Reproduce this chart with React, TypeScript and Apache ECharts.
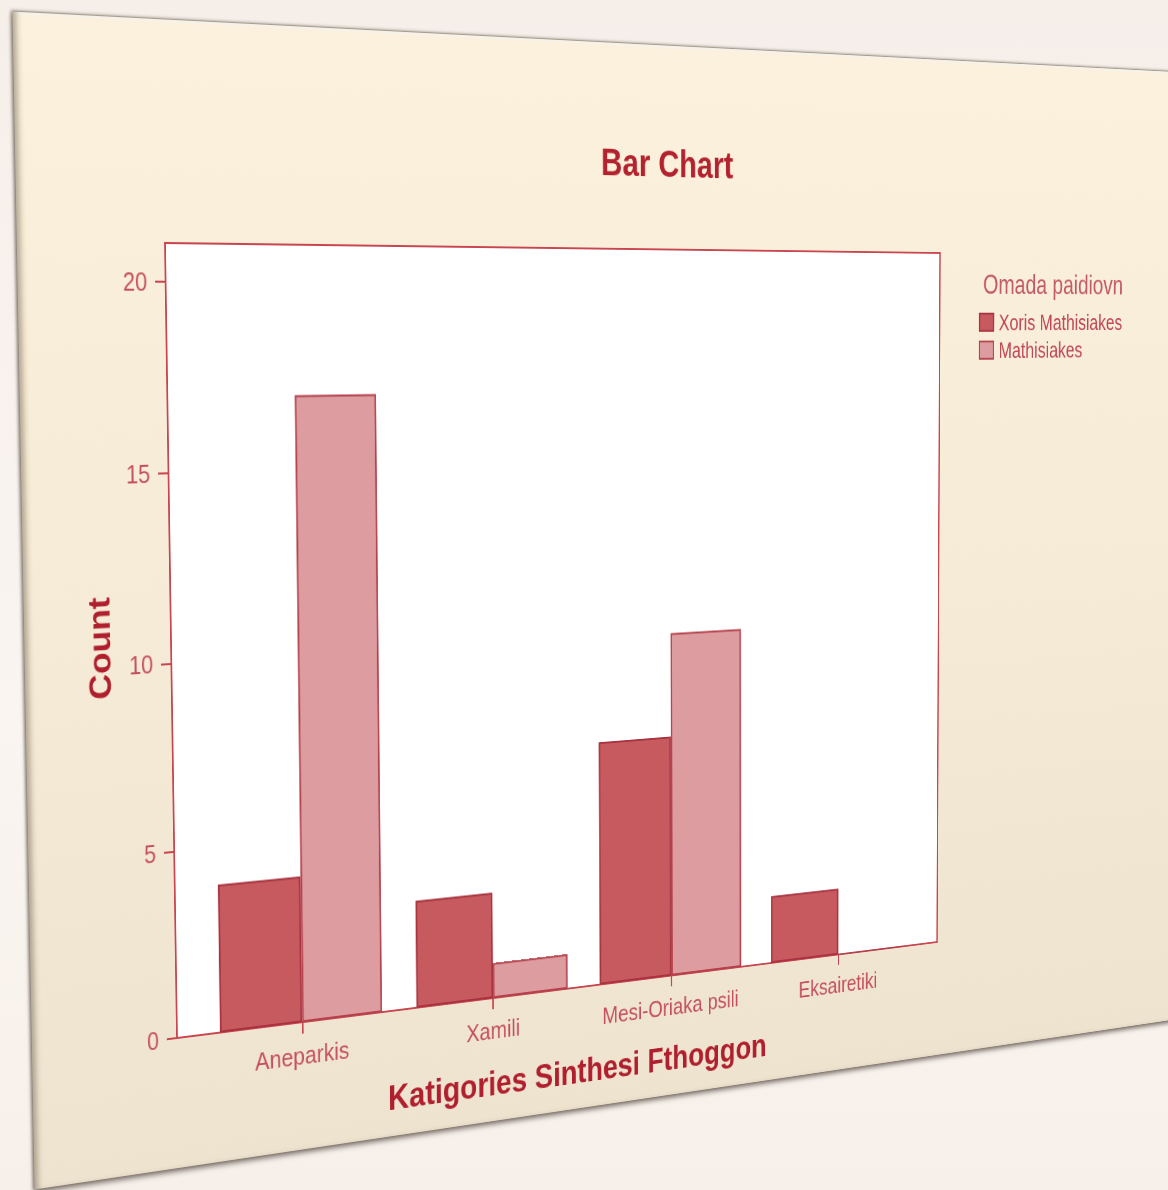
import React, { useEffect, useRef } from "react";
import * as echarts from "echarts";

// ---------------- data ----------------
const categories = ["Aneparkis", "Xamili", "Mesi-Oriaka psili", "Eksairetiki"];
const groupNames = ["Xoris Mathisiakes", "Mathisiakes"];
const xorisMathisiakes = [4, 3, 7, 2];
const mathisiakes = [17, 1, 10, 0];
const yMin = 0;
const yMax = 20;
const yStep = 5;
const chartTitle = "Bar Chart";
const legendTitle = "Omada paidiovn";
const xAxisTitle = "Katigories Sinthesi Fthoggon";
const yAxisTitle = "Count";

// ---------------- layout (flat, before the perspective warp) ----------------
const FRAME_MAX = 21; // frame top sits a little above the last tick
const FLAT_W = 1800;
const FLAT_H = 1500;
const FL = 200;
const FT = 260;
const FW = 1030;
const FH = 795;
const PAD_L = 29;
const PAD_R = 30;

// where the plot frame appears in the photographed slide
const frameQuad: number[][] = [
  [165, 243],
  [940, 253],
  [937, 942],
  [177, 1038],
];

type M3 = number[][];
function squareToQuad(q: number[][]): M3 {
  const [[x0, y0], [x1, y1], [x2, y2], [x3, y3]] = q;
  const dx1 = x1 - x2, dx2 = x3 - x2, dx3 = x0 - x1 + x2 - x3;
  const dy1 = y1 - y2, dy2 = y3 - y2, dy3 = y0 - y1 + y2 - y3;
  const den = dx1 * dy2 - dx2 * dy1;
  const g = (dx3 * dy2 - dx2 * dy3) / den;
  const h = (dx1 * dy3 - dx3 * dy1) / den;
  const a = x1 - x0 + g * x1, b = x3 - x0 + h * x3, c = x0;
  const d = y1 - y0 + g * y1, e = y3 - y0 + h * y3, f = y0;
  return [
    [a, b, c],
    [d, e, f],
    [g, h, 1],
  ];
}
function mul(A: M3, B: M3): M3 {
  const R: M3 = [[0, 0, 0], [0, 0, 0], [0, 0, 0]];
  for (let i = 0; i < 3; i++)
    for (let j = 0; j < 3; j++)
      for (let k = 0; k < 3; k++) R[i][j] += A[i][k] * B[k][j];
  return R;
}
function inv(m: M3): M3 {
  const [[a, b, c], [d, e, f], [g, h, i]] = m;
  const A = e * i - f * h, B = -(d * i - f * g), C = d * h - e * g;
  const det = a * A + b * B + c * C;
  return [
    [A / det, -(b * i - c * h) / det, (b * f - c * e) / det],
    [B / det, (a * i - c * g) / det, -(a * f - c * d) / det],
    [C / det, -(a * h - b * g) / det, (a * e - b * d) / det],
  ];
}
const S: M3 = [
  [1 / FW, 0, -FL / FW],
  [0, 1 / FH, -FT / FH],
  [0, 0, 1],
];
const H = mul(squareToQuad(frameQuad), S);
const Hinv = inv(H);
function toFlat(x: number, y: number) {
  const u = Hinv[0][0] * x + Hinv[0][1] * y + Hinv[0][2];
  const v = Hinv[1][0] * x + Hinv[1][1] * y + Hinv[1][2];
  const w = Hinv[2][0] * x + Hinv[2][1] * y + Hinv[2][2];
  return { x: u / w, y: v / w };
}
const MATRIX = `matrix3d(${H[0][0]},${H[1][0]},0,${H[2][0]},${H[0][1]},${H[1][1]},0,${H[2][1]},0,0,1,0,${H[0][2]},${H[1][2]},0,${H[2][2]})`;

// card (slide) rectangle in flat coordinates
const cardTL = toFlat(12, 10);
const cardBL = toFlat(35, 1188);
const cardTR = toFlat(1200, 74);
const card = {
  x: (cardTL.x + cardBL.x) / 2,
  y: cardTL.y,
  w: Math.max(cardTR.x, 1700) - (cardTL.x + cardBL.x) / 2,
  h: cardBL.y - cardTL.y,
};

const titlePos = toFlat(668, 164);
const legendTitlePos = toFlat(983, 284);
const legendPos = toFlat(979, 311);

const FONT = '"Liberation Sans", Arial, sans-serif';
const TITLE_COLOR = "#b3222f";
const NAME_COLOR = "#b01f2d";
const LABEL_COLOR = "#c4505c";
const FRAME_COLOR = "#c9454f";
const LEGEND_TEXT = "#c04654";
const LEGEND_TITLE = "#c45a66";

const yGridTop = FT + (FH * (FRAME_MAX - yMax)) / FRAME_MAX;
const yGridH = (FH * (yMax - yMin)) / FRAME_MAX;

export default function App() {
  const ref = useRef<HTMLDivElement>(null);
  useEffect(() => {
    if (!ref.current) return;
    const chart = echarts.init(ref.current, null, {
      renderer: "svg",
      width: FLAT_W,
      height: FLAT_H,
    });
    const option: any = {
      animation: false,
      backgroundColor: "transparent",
      grid: [
        {
          left: FL,
          top: FT,
          width: FW,
          height: FH,
          show: true,
          backgroundColor: "#ffffff",
          borderColor: FRAME_COLOR,
          borderWidth: 2,
        },
        { left: FL, top: yGridTop, width: FW, height: yGridH },
        { left: FL + PAD_L, top: yGridTop, width: FW - PAD_L - PAD_R, height: yGridH },
      ],
      xAxis: [
        { gridIndex: 0, type: "value", show: false, min: 0, max: 1 },
        { gridIndex: 1, type: "value", show: false, min: 0, max: 1 },
        {
          gridIndex: 2,
          type: "category",
          data: categories,
          axisLine: { show: false },
          axisTick: {
            show: true,
            alignWithLabel: true,
            length: 12,
            lineStyle: { color: FRAME_COLOR, width: 2 },
          },
          axisLabel: {
            color: LABEL_COLOR,
            fontSize: 26,
            fontFamily: FONT,
            margin: 22,
            interval: 0,
          },
          name: xAxisTitle,
          nameLocation: "middle",
          nameGap: 74,
          nameTextStyle: {
            color: NAME_COLOR,
            fontSize: 37,
            fontWeight: "bold",
            fontFamily: FONT,
          },
        },
      ],
      yAxis: [
        {
          gridIndex: 0,
          type: "value",
          min: 0,
          max: 1,
          axisLine: { show: false },
          axisTick: { show: false },
          axisLabel: { show: false },
          splitLine: { show: false },
          name: yAxisTitle,
          nameLocation: "middle",
          nameGap: 65,
          nameRotate: 90,
          nameTextStyle: {
            color: NAME_COLOR,
            fontSize: 35,
            fontWeight: "bold",
            fontFamily: FONT,
          },
        },
        {
          gridIndex: 1,
          type: "value",
          min: yMin,
          max: yMax,
          interval: yStep,
          axisLine: { show: true, lineStyle: { color: FRAME_COLOR, width: 2 } },
          axisTick: { show: true, length: 12, lineStyle: { color: FRAME_COLOR, width: 2 } },
          axisLabel: { color: LABEL_COLOR, fontSize: 25, fontFamily: FONT, margin: 21 },
          splitLine: { show: false },
        },
        { gridIndex: 2, type: "value", show: false, min: yMin, max: yMax, interval: yStep },
      ],
      legend: {
        orient: "vertical",
        left: legendPos.x,
        top: legendPos.y,
        padding: 0,
        itemWidth: 22,
        itemHeight: 20,
        itemGap: 6,
        icon: "rect",
        data: groupNames,
        textStyle: { color: LEGEND_TEXT, fontSize: 25.5, fontFamily: FONT, padding: [0, 0, 0, 3] },
      },
      graphic: [
        {
          type: "text",
          x: titlePos.x,
          y: titlePos.y,
          style: {
            text: chartTitle,
            fill: TITLE_COLOR,
            fontSize: 40,
            fontWeight: "bold",
            fontFamily: FONT,
            align: "center",
            verticalAlign: "middle",
          },
        },
        {
          type: "text",
          x: legendTitlePos.x,
          y: legendTitlePos.y,
          style: {
            text: legendTitle,
            fill: LEGEND_TITLE,
            fontSize: 31,
            fontFamily: FONT,
            align: "left",
            verticalAlign: "middle",
          },
        },
      ],
      series: [
        {
          name: groupNames[0],
          type: "bar",
          xAxisIndex: 2,
          yAxisIndex: 2,
          data: xorisMathisiakes,
          barGap: "0%",
          barCategoryGap: "18%",
          itemStyle: { color: "#c65a5f", borderColor: "#a8323f", borderWidth: 2 },
        },
        {
          name: groupNames[1],
          type: "bar",
          xAxisIndex: 2,
          yAxisIndex: 2,
          data: mathisiakes,
          barGap: "0%",
          barCategoryGap: "18%",
          itemStyle: { color: "#dd9ca0", borderColor: "#b5414c", borderWidth: 2 },
        },
      ],
    };
    chart.setOption(option);
    return () => chart.dispose();
  }, []);

  return (
    <div
      style={{
        position: "absolute",
        left: 0,
        top: 0,
        width: 1168,
        height: 1190,
        overflow: "hidden",
        background: "linear-gradient(180deg, #f6eee9 0%, #faf5f1 60%, #f7f0ea 100%)",
      }}
    >
      <div
        style={{
          position: "absolute",
          left: 0,
          top: 0,
          width: FLAT_W,
          height: FLAT_H,
          transformOrigin: "0 0",
          transform: MATRIX,
        }}
      >
        <div
          style={{
            position: "absolute",
            left: card.x,
            top: card.y,
            width: card.w,
            height: card.h,
            background: "linear-gradient(180deg, #fcf1dc 0%, #f6ebd6 50%, #eee3cf 100%)",
            borderTop: "1px solid rgba(120,110,100,0.6)",
            boxShadow:
              "0 4px 5px rgba(60,50,40,0.55), -2px 0 3px rgba(60,50,40,0.45), inset 7px 0 6px -3px rgba(120,105,85,0.55), inset 0 3px 3px -1px rgba(255,255,255,0.9)",
          }}
        />
        <div ref={ref} style={{ position: "absolute", left: 0, top: 0, width: FLAT_W, height: FLAT_H }} />
      </div>
    </div>
  );
}
